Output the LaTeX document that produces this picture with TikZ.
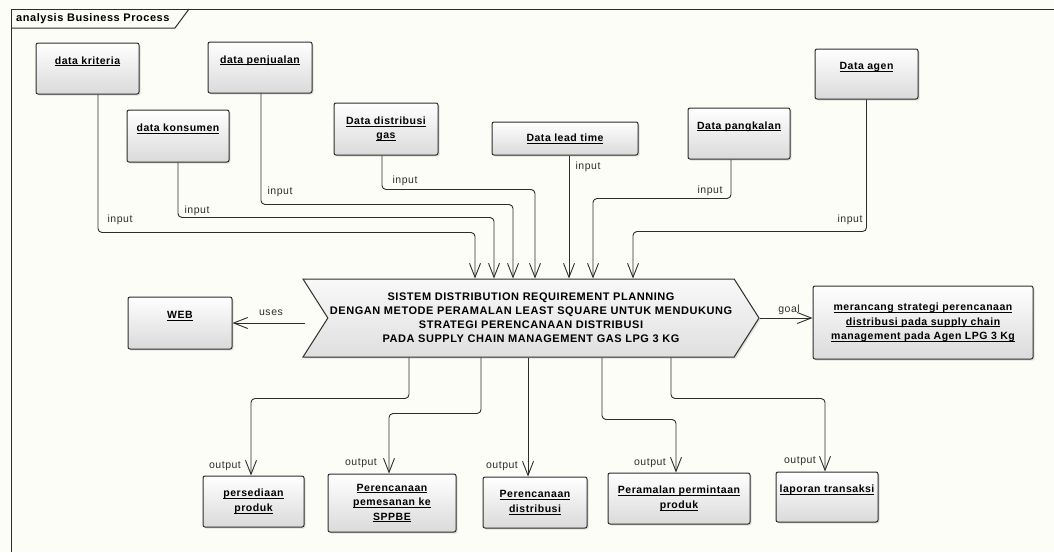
\documentclass[tikz,border=0pt]{standalone}
\usepackage{fontspec}
\setmainfont[LetterSpace=5]{Liberation Sans}
\usetikzlibrary{shapes,arrows.meta,shadows}
\definecolor{uml_line}{RGB}{45, 45, 45}
\definecolor{uml_paper}{RGB}{253, 253, 247}
\definecolor{uml_grey}{RGB}{218, 218, 218}
\newcommand{\ulx}[1]{\setbox0\hbox{#1}\rlap{\rule[-2pt]{\wd0}{0.7pt}}\box0}
\tikzstyle{bx}=[rectangle,rounded corners=2pt,draw=uml_line,line width=1pt,
  top color=white,bottom color=uml_grey,align=center,inner sep=2pt,
  drop shadow={shadow xshift=1.5pt,shadow yshift=-1.5pt,fill=black!25},
  font=\fontsize{10.5}{14.5}\selectfont\bfseries]
\tikzstyle{tb}=[text height=8pt,text depth=17pt]
\tikzstyle{sg}=[signal,signal from=west,signal to=east,signal pointer angle=115,
  draw=uml_line,line width=1pt,top color=gray!5,bottom color=gray!25,
  drop shadow={shadow xshift=1.5pt,shadow yshift=-1.5pt,fill=black!25},
  minimum width=456pt,minimum height=78pt,inner sep=0pt,align=center,
  font=\fontsize{11}{14}\selectfont\bfseries]
\tikzstyle{lb}=[inner sep=0pt,text=uml_line,font=\fontsize{10.5}{12}\selectfont]
\tikzstyle{fl}=[draw=uml_line,line width=0.9pt,rounded corners=4pt,
  -{Straight Barb[length=14pt,width=11pt]}]

\begin{document}
\begin{tikzpicture}[x=1pt,y=-1pt]
    \useasboundingbox (0, 0) rectangle (1054, 552);
    \fill [uml_paper] (0, 0) rectangle (1054, 552);
    % frame
    \draw [draw=uml_line, line width=1pt] (1054, 9) -- (11, 9) -- (11, 552);
    \draw [draw=uml_line, line width=1pt] (11, 28) -- (175, 28) -- (189, 9);
    \node [anchor=west, inner sep=0pt, font=\fontsize{11}{13}\selectfont\bfseries] (title) at (16, 18.5) {analysis Business Process};

    \node [style=sg] (0) at (531, 318) {SISTEM DISTRIBUTION REQUIREMENT PLANNING\\DENGAN METODE PERAMALAN LEAST SQUARE UNTUK MENDUKUNG\\STRATEGI PERENCANAAN DISTRIBUSI\\PADA SUPPLY CHAIN MANAGEMENT GAS LPG 3 KG};
    \node [style=bx, style=tb, minimum width=103pt, minimum height=51pt] (1) at (87.5, 68.5) {\ulx{data kriteria}};
    \node [style=bx, style=tb, minimum width=102pt, minimum height=52pt] (2) at (178, 136) {\ulx{data konsumen}};
    \node [style=bx, style=tb, minimum width=104pt, minimum height=51pt] (3) at (260, 67.5) {\ulx{data penjualan}};
    \node [style=bx, minimum width=104pt, minimum height=52pt] (4) at (386, 129) {\ulx{Data distribusi}\\\ulx{gas}};
    \node [style=bx, minimum width=146pt, minimum height=33pt] (5) at (565, 138.5) {\ulx{Data lead time}};
    \node [style=bx, style=tb, minimum width=102pt, minimum height=51pt] (6) at (739, 133.5) {\ulx{Data pangkalan}};
    \node [style=bx, style=tb, minimum width=103pt, minimum height=50pt] (7) at (866.5, 74) {\ulx{Data agen}};
    \node [style=bx, style=tb, minimum width=104pt, minimum height=52pt] (8) at (180, 323) {\ulx{WEB}};
    \node [style=bx, minimum width=220pt, minimum height=73pt] (9) at (923, 322.5) {\ulx{merancang strategi perencanaan}\\\ulx{distribusi pada supply chain}\\\ulx{management pada Agen LPG 3 Kg}};
    \node [style=bx, minimum width=101pt, minimum height=51pt] (10) at (253.5, 501.5) {\ulx{persediaan}\\\ulx{produk}};
    \node [style=bx, minimum width=128pt, minimum height=58pt] (11) at (392, 503) {\ulx{Perencanaan}\\\ulx{pemesanan ke}\\\ulx{SPPBE}};
    \node [style=bx, minimum width=104pt, minimum height=51pt] (12) at (535, 502.5) {\ulx{Perencanaan}\\\ulx{distribusi}};
    \node [style=bx, minimum width=142pt, minimum height=51pt] (13) at (679, 498.5) {\ulx{Peramalan permintaan}\\\ulx{produk}};
    \node [style=bx, style=tb, minimum width=102pt, minimum height=50pt] (14) at (827, 497) {\ulx{laporan transaksi}};

    \node [style=lb] (15) at (120, 220) {input};
    \node [style=lb] (16) at (197, 211) {input};
    \node [style=lb] (17) at (280, 192) {input};
    \node [style=lb] (18) at (405, 181) {input};
    \node [style=lb] (19) at (588, 167) {input};
    \node [style=lb] (20) at (710, 191) {input};
    \node [style=lb] (21) at (850, 220) {input};
    \node [style=lb] (22) at (271, 313) {uses};
    \node [style=lb] (23) at (789, 310) {goal};
    \node [style=lb] (24) at (225, 466) {output};
    \node [style=lb] (25) at (361, 463) {output};
    \node [style=lb] (26) at (502, 466) {output};
    \node [style=lb] (27) at (650, 463) {output};
    \node [style=lb] (28) at (800, 461) {output};

    \draw [style=fl] ([xshift=10.5pt]1.south) |- ([xshift=-56pt,yshift=46pt]0.north) -- ([xshift=-56pt]0.north);
    \draw [style=fl] (2.south) |- ([xshift=-37pt,yshift=61pt]0.north) -- ([xshift=-37pt]0.north);
    \draw [style=fl] ([xshift=1pt]3.south) |- ([xshift=-18pt,yshift=74pt]0.north) -- ([xshift=-18pt]0.north);
    \draw [style=fl] ([xshift=-4pt]4.south) |- ([xshift=4pt,yshift=89pt]0.north) -- ([xshift=4pt]0.north);
    \draw [style=fl] ([xshift=4pt]5.south) -- ([xshift=38pt]0.north);
    \draw [style=fl] ([xshift=-8pt]6.south) |- ([xshift=62pt,yshift=80pt]0.north) -- ([xshift=62pt]0.north);
    \draw [style=fl] (7.south) |- ([xshift=102pt,yshift=47pt]0.north) -- ([xshift=102pt]0.north);

    \draw [style=fl] ([xshift=-226pt,yshift=-5pt]0.center) -- (8.east);
    \draw [style=fl] (0.east) -- (0.east -| 9.west);

    \draw [style=fl] ([xshift=-122pt]0.south) -- ++(0, 41) -| ([xshift=-2.5pt]10.north);
    \draw [style=fl] ([xshift=-50pt]0.south) -- ++(0, 56) -| ([xshift=-3pt]11.north);
    \draw [style=fl] ([xshift=-3pt]0.south) -- ([xshift=-7pt]12.north);
    \draw [style=fl] ([xshift=71pt]0.south) -- ++(0, 62) -| ([xshift=-3pt]13.north);
    \draw [style=fl] ([xshift=140pt]0.south) -- ++(0, 41) -| ([xshift=-2pt]14.north);
  \end{tikzpicture}
\end{document}
